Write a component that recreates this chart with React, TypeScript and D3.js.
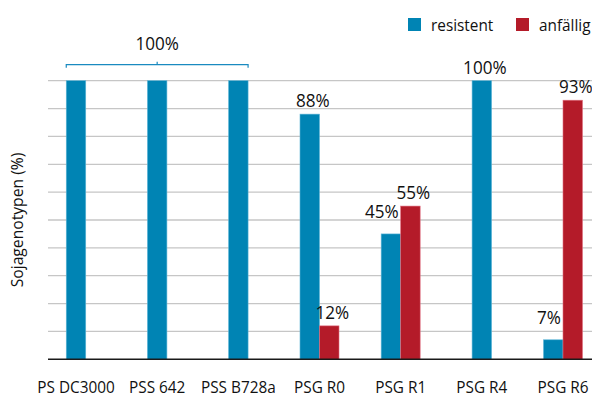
import * as d3 from "d3";

const categories = ["PS DC3000", "PSS 642", "PSS B728a", "PSG R0", "PSG R1", "PSG R4", "PSG R6"];
const resistent = [100, 100, 100, 88, 45, 100, 7];
const anfaellig = [0, 0, 0, 12, 55, 0, 93];
const seriesNames = ["resistent", "anfällig"];
// categories sharing one label above a bracket
const bracketGroup = ["PS DC3000", "PSS 642", "PSS B728a"];
const yTicks = d3.range(0, 101, 10);

const W = 592;
const H = 397;
const colors = ["#0084b4", "#b41b29"];
const font = "'Open Sans', sans-serif";

// condensed look: squeeze the text horizontally
const T = ({ x, y, size, sx = 0.9, anchor = "middle", children }: any) => (
  <text
    transform={`translate(${x},${y}) scale(${sx},1)`}
    textAnchor={anchor}
    fontSize={size}
    fill="#111"
  >
    {children}
  </text>
);

const App = () => {
  const margin = { top: 80.7, right: 0, bottom: 37.7, left: 48 };
  const y = d3.scaleLinear().domain([0, 100]).range([H - margin.bottom, margin.top]);
  const x = d3.scalePoint<string>().domain(categories).range([76, 563]);
  const barW = 19.5;

  const bars: { key: string; cat: string; x: number; v: number; s: number; other: number }[] = [];
  categories.forEach((c, i) => {
    const vals = [resistent[i], anfaellig[i]];
    const shown = vals.map((v, s) => ({ v, s })).filter((d) => d.v > 0);
    const cx = x(c)!;
    shown.forEach((d, j) => {
      const left = cx - (shown.length * barW) / 2 + j * barW;
      const other = shown.length > 1 ? shown[1 - j].v : 0;
      bars.push({ key: `${c}-${d.s}`, cat: c, x: left, v: d.v, s: d.s, other });
    });
  });

  const grpBars = bars.filter((b) => bracketGroup.includes(b.cat));
  const bx0 = d3.min(grpBars, (b) => b.x)!;
  const bx1 = d3.max(grpBars, (b) => b.x + barW)!;
  const by = y(100) - 16;

  return (
    <svg width={W} height={H} style={{ position: "absolute", left: 0, top: 0 }} fontFamily={font}>
      {yTicks.slice(1).map((t) => (
        <line key={t} x1={margin.left} x2={W} y1={y(t)} y2={y(t)} stroke="#c6c6c6" strokeWidth={1.3} />
      ))}
      {bars.map((b) => (
        <rect
          key={b.key}
          x={b.x}
          y={y(b.v)}
          width={barW}
          height={y(0) - y(b.v)}
          fill={colors[b.s]}
          stroke={b.s === 0 ? "#5fb6d8" : "#e07080"}
          strokeWidth={0.6}
        />
      ))}
      <line x1={margin.left} x2={W} y1={y(0)} y2={y(0)} stroke="#1a1a1a" strokeWidth={1.4} />
      {bars
        .filter((b) => !bracketGroup.includes(b.cat))
        .map((b) => {
          // left bar lower than its neighbour: keep label clear of the taller bar
          const shift = b.s === 0 && b.other > b.v;
          return shift ? (
            <T key={b.key} x={b.x + barW - 2} y={y(b.v) - 16} size={19} anchor="end">
              {b.v}%
            </T>
          ) : (
            <T key={b.key} x={b.x + barW / 2 + 3} y={y(b.v) - 7} size={19}>
              {b.v}%
            </T>
          );
        })}
      <path
        d={`M${bx0},${by + 3}V${by}H${bx1}V${by + 3}M${(bx0 + bx1) / 2},${by}v-3`}
        fill="none"
        stroke="#1a8ac0"
        strokeWidth={1.2}
      />
      <T x={(bx0 + bx1) / 2} y={by - 15} size={19}>
        100%
      </T>
      {categories.map((c) => (
        <T key={c} x={x(c)} y={393} size={16.5} sx={0.93}>
          {c}
        </T>
      ))}
      <g transform={`translate(23,${(y(0) + y(100)) / 2}) rotate(-90)`}>
        <T x={0} y={0} size={16.5} sx={0.95}>
          Sojagenotypen (%)
        </T>
      </g>
      {seriesNames.map((n, i) => (
        <g key={n} transform={`translate(${408 + i * 108},18)`}>
          <rect width={13} height={13} fill={colors[i]} />
          <T x={23} y={13} size={16.5} sx={0.93} anchor="start">
            {n}
          </T>
        </g>
      ))}
    </svg>
  );
};

export default App;
